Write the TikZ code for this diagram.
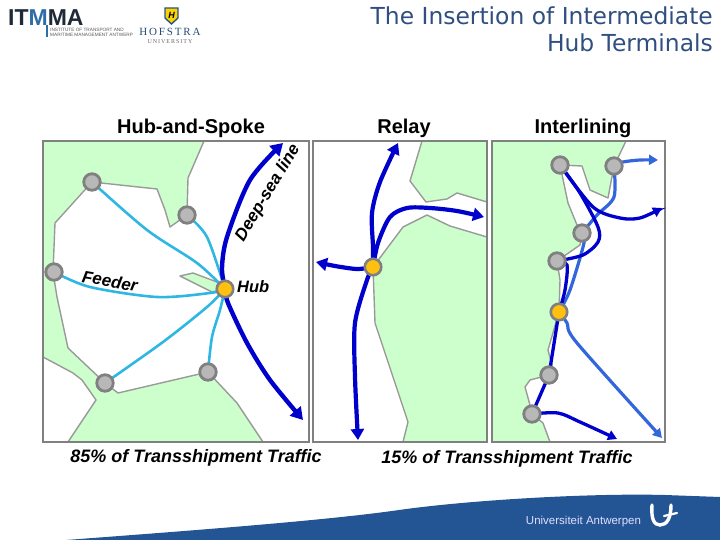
\documentclass[tikz,border=0pt]{standalone}
\usepackage{fontspec}
\setmainfont{Liberation Sans}
\newfontfamily\dejavu{DejaVu Sans}
\newfontfamily\lserif{Liberation Serif}
\usetikzlibrary{arrows.meta}
\pgfdeclarelayer{back}
\pgfsetlayers{back,main}
\definecolor{landgreen}{HTML}{CCFFCC}
\definecolor{coast}{HTML}{9A9A9A}
\definecolor{framegray}{HTML}{808080}
\definecolor{feedercol}{HTML}{2DB7E2}
\definecolor{deepblue}{HTML}{0000CC}
\definecolor{midblue}{HTML}{3366DD}
\definecolor{titleblue}{HTML}{2F4F80}
\definecolor{footblue}{HTML}{235494}
\definecolor{itdark}{HTML}{1F2A38}
\definecolor{itblue}{HTML}{2F6DA8}
\definecolor{hubgold}{HTML}{FFC010}
\definecolor{portgray}{HTML}{B8B8B8}
\tikzset{
  land/.style={fill=landgreen,draw=coast,line width=1.4pt,line join=round},
  panel/.style={draw=framegray,line width=2.5pt},
  portnode/.style={circle,draw=framegray,line width=2.8pt,fill=portgray,minimum size=16.5pt,inner sep=0pt},
  hubnode/.style={circle,draw=framegray,line width=2.6pt,fill=hubgold,minimum size=16.5pt,inner sep=0pt},
  feeder/.style={draw=feedercol,line width=2.6pt,line cap=round},
  deep/.style={draw=deepblue,line width=4.4pt,-{Triangle[length=12pt,width=14pt]}},
  relay/.style={draw=deepblue,line width=4.2pt,-{Triangle[length=11pt,width=13pt]}},
  darkline/.style={draw=deepblue,line width=3.3pt},
  darkarrow/.style={darkline,-{Triangle[length=9pt,width=10pt]}},
  midline/.style={draw=midblue,line width=3.2pt},
  midarrow/.style={midline,-{Triangle[length=9pt,width=10pt]}},
  heading/.style={font=\bfseries\fontsize{20}{22}\selectfont,inner sep=0pt},
  share/.style={font=\bfseries\itshape\fontsize{18}{20}\selectfont,inner sep=0pt},
  tag/.style={font=\itshape\bfseries\fontsize{17}{19}\selectfont,inner sep=0pt},
}
\begin{document}
\begin{tikzpicture}[x=1pt,y=-1pt]
\useasboundingbox (0,0) rectangle (720,540);
% footer
\fill[footblue] (66,540) .. controls (200,530) and (330,520) .. (399,510) .. controls (470,500) and (590,493) .. (665,495) -- (720,497) -- (720,540) -- cycle;
\node[text=white!88!blue,font=\fontsize{11.5}{13}\selectfont,inner sep=0pt] (unitext) at (583.5,522) {Universiteit Antwerpen};
\draw[white,line width=3.4pt,line cap=round] (652,505) .. controls (651,519) and (654,525) .. (660,525) .. controls (667,525) and (671,518) .. (671,505);
\draw[white,line width=2.2pt,line cap=round] (664,516) -- (677,513);
% logos
\node[anchor=west,inner sep=0pt,font=\bfseries\fontsize{23}{24}\selectfont] (itmma) at (8,17.5) {\textcolor{itdark}{IT}\textcolor{itblue}{M}\textcolor{itdark}{MA}};
\fill[itblue] (46,25) rectangle (47.5,37);
\node[anchor=west,inner sep=0pt,align=left,text=black!65,font=\fontsize{4.7}{5}\selectfont] (itsub) at (50,32) {INSTITUTE OF TRANSPORT AND\\MARITIME MANAGEMENT ANTWERP};
\filldraw[fill=yellow!70!orange,draw=itblue!80!black,line width=1.4pt] (165,8) -- (178,8) -- (178,18) -- (171.5,24) -- (165,18) -- cycle;
\node[text=black,font=\bfseries\itshape\fontsize{9}{9}\selectfont,inner sep=0pt] (shield) at (171.5,15) {H};
\node[text=itblue!70!black,font=\lserif\fontsize{11}{13}\selectfont,inner sep=0pt] (hofstra) at (170,32) {H\,O\,F\,S\,T\,R\,A};
\node[text=black!60,font=\lserif\fontsize{6}{7}\selectfont,inner sep=0pt] (univ) at (170,42) {U\,N\,I\,V\,E\,R\,S\,I\,T\,Y};
% title
\node[anchor=east,inner sep=0pt,text=titleblue,font=\dejavu\fontsize{23.4}{26}\selectfont] (title1) at (713,16) {The Insertion of Intermediate};
\node[anchor=east,inner sep=0pt,text=titleblue,font=\dejavu\fontsize{23.4}{26}\selectfont] (title2) at (713,43) {Hub Terminals};
% headings
\node[heading] (h1) at (191,128) {Hub-and-Spoke};
\node[heading] (h2) at (404,128) {Relay};
\node[heading] (h3) at (583,128) {Interlining};
\node[share] (s1) at (196,457.5) {85\% of Transshipment Traffic};
\node[share] (s2) at (507,459) {15\% of Transshipment Traffic};
% nodes: left panel
\node[portnode] (a1) at (92,182) {};
\node[portnode] (a2) at (187,215) {};
\node[portnode] (a3) at (54,272) {};
\node[portnode] (a4) at (105,383) {};
\node[portnode] (a5) at (208,372) {};
\node[hubnode] (ahub) at (225,289) {};
\coordinate (atop) at (283,143);
\coordinate (abot) at (303,420);
% nodes: middle panel
\node[hubnode] (bhub) at (373,267) {};
\coordinate (btop) at (398,143);
\coordinate (bright) at (484,217);
\coordinate (bleft) at (316,262);
\coordinate (bbot) at (358,440);
% nodes: right panel
\node[portnode] (c1) at (560,165) {};
\node[portnode] (c2) at (614,166) {};
\node[portnode] (c3) at (582,233) {};
\node[portnode] (c4) at (557,261) {};
\node[hubnode] (chub) at (559,312) {};
\node[portnode] (c5) at (549,375) {};
\node[portnode] (c6) at (532,414) {};
\coordinate (ce1) at (662,208);
\coordinate (ce2) at (658,160);
\coordinate (ce3) at (662,438);
\coordinate (ce4) at (617,439);
% labels
\node[tag,rotate=59] (deeplabel) at (268,193) {Deep-sea line};
\node[tag,rotate=-10] (feederlabel) at (110,281) {Feeder};
\node[anchor=west,inner sep=0pt,font=\itshape\fontsize{16.5}{18}\selectfont\bfseries] (hublabel) at (237,287) {Hub};
\begin{pgfonlayer}{back}
% land, left panel
\path[land] (43,141) -- (204,141) -- (188,178) -- (187,215) -- (170,227) -- (165,210) -- (157,189) -- (92,182) -- (55,223) -- (53,272) -- (57,297) -- (68,348) -- (105,383) -- (118,393) -- (208,372) -- (237,403) -- (263,442) -- (68,442) -- (96,400) -- (82,380) -- (73,373) -- (43,357) -- cycle;
\path[land] (180,276) -- (193,273) -- (217,282) -- (225,289) -- (212,292) -- cycle;
% land, middle panel
\path[land] (422,141) -- (410,181) -- (426,202) -- (447,199) -- (457,193) -- (487,202) -- (487,141) -- cycle;
\path[land] (487,237) -- (450,226) -- (427,215) -- (403,227) -- (373,267) -- (375,323) -- (408,422) -- (403,442) -- (487,442) -- cycle;
% land, right panel
\path[land] (492,141) -- (626,141) -- (614,166) -- (608,198) -- (590,190) -- (582,166) -- (560,165) -- (568,203) -- (577,225) -- (582,233) -- (580,245) -- (557,261) -- (560,280) -- (559,312) -- (548,350) -- (552,365) -- (549,375) -- (530,380) -- (525,387) -- (530,405) -- (532,414) -- (543,423) -- (550,442) -- (492,442) -- cycle;
% frames
\draw[panel] (43,141) rectangle (309,442);
\draw[panel] (313,141) rectangle (487,442);
\draw[panel] (492,141) rectangle (665,442);
% feeders
\draw[feeder] plot[smooth] coordinates {(a1.center) (147,230) (197,263) (ahub.center)};
\draw[feeder] plot[smooth] coordinates {(a2.center) (207,237) (ahub.center)};
\draw[feeder] plot[smooth] coordinates {(a3.center) (90,287) (157,297) (210,293) (ahub.center)};
\draw[feeder] plot[smooth] coordinates {(a4.center) (163,342) (207,307) (ahub.center)};
\draw[feeder] plot[smooth] coordinates {(a5.center) (212,337) (220,310) (ahub.center)};
% deep-sea
\draw[deep] plot[smooth] coordinates {(ahub.center) (222,268) (227,237) (250,180) (atop)};
\draw[deep] plot[smooth] coordinates {(ahub.center) (228,303) (247,343) (270,380) (abot)};
% relay
\draw[relay] plot[smooth] coordinates {(bhub.center) (373,247) (372,213) (380,182) (btop)};
\draw[relay] plot[smooth] coordinates {(bhub.center) (378,243) (390,217) (407,208) (430,208) (457,211) (bright)};
\draw[relay] plot[smooth] coordinates {(bhub.center) (357,269) (335,266) (bleft)};
\draw[relay] plot[smooth] coordinates {(bhub.center) (367,280) (355,323) (355,377) (bbot)};
% interlining, medium blue
\draw[midarrow] plot[smooth] coordinates {(c2.center) (623,162) (640,160) (ce2)};
\draw[midline] plot[smooth] coordinates {(c2.center) (614,197) (597,215) (c3.center)};
\draw[midline] plot[smooth] coordinates {(c3.center) (584,243) (570,290) (chub.center)};
\draw[midarrow] plot[smooth] coordinates {(chub.center) (567,323) (577,343) (ce3)};
% interlining, dark blue
\draw[darkarrow] plot[smooth] coordinates {(c1.center) (593,207) (620,218) (640,218) (ce1)};
\draw[darkline] plot[smooth] coordinates {(c1.center) (580,193) (598,227) (598,242) (583,255) (c4.center)};
\draw[darkline] plot[smooth] coordinates {(c4.center) (567,265) (565,290) (chub.center)};
\draw[darkline] (chub.center) -- (c5.center);
\draw[darkline] (c5.center) -- (c6.center);
\draw[darkarrow] plot[smooth] coordinates {(c6.center) (558,413) (580,422) (ce4)};
\end{pgfonlayer}
\end{tikzpicture}
\end{document}
